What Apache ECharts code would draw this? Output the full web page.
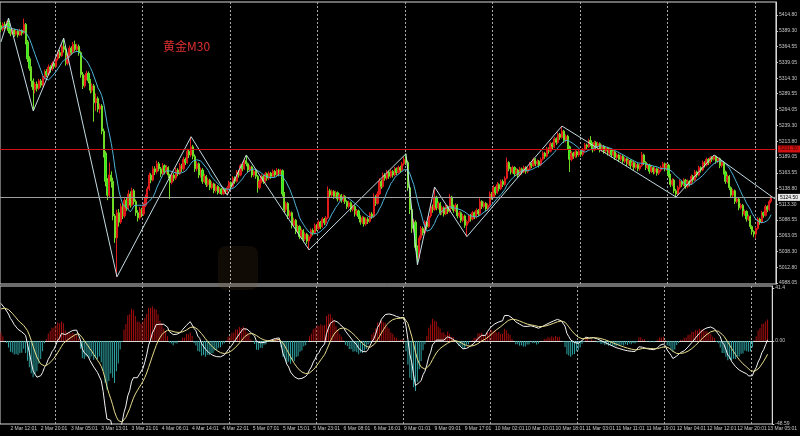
<!DOCTYPE html>
<html>
<head>
<meta charset="utf-8">
<script src="https://cdn.jsdelivr.net/npm/echarts@6/dist/echarts.min.js"></script>
<style>html,body{margin:0;background:#000}#chart{width:800px;height:436px}</style>
</head>
<body>
<div id="chart"></div>
<script>
// 黄金 M30，每根K线 [开, 收, 低, 高]
var ohlc = [
[5398,5392,5388,5404],[5392,5400,5389,5403],[5400,5395,5392,5404],[5395,5402,5393,5405],[5402,5390,5386,5410],
[5390,5385,5381,5393],[5385,5391,5383,5394],[5391,5384,5380,5393],[5384,5389,5382,5392],[5389,5383,5379,5391],
[5383,5390,5381,5393],[5390,5386,5382,5392],[5386,5400,5384,5409],[5400,5372,5368,5402],[5372,5345,5340,5375],
[5345,5330,5326,5349],[5330,5310,5300,5333],[5310,5296,5262,5314],[5296,5305,5290,5308],[5305,5298,5293,5309],
[5298,5310,5295,5313],[5310,5303,5299,5313],[5303,5315,5301,5318],[5315,5325,5312,5328],[5325,5320,5316,5329],
[5320,5332,5318,5336],[5332,5328,5323,5335],[5328,5338,5326,5341],[5338,5333,5329,5340],[5333,5345,5331,5349],
[5345,5355,5342,5358],[5355,5350,5346,5359],[5350,5365,5348,5369],[5365,5360,5355,5378],[5360,5338,5334,5363],
[5338,5350,5335,5353],[5350,5362,5347,5366],[5362,5355,5351,5365],[5355,5368,5353,5372],[5368,5360,5357,5374],
[5360,5365,5356,5369],[5365,5355,5350,5368],[5355,5320,5315,5357],[5320,5302,5297,5324],[5302,5315,5299,5319],
[5315,5322,5311,5326],[5322,5310,5306,5325],[5310,5295,5290,5313],[5295,5302,5291,5306],[5302,5275,5245,5305],
[5275,5282,5262,5290],[5282,5265,5260,5285],[5265,5270,5258,5274],[5270,5230,5225,5273],[5230,5195,5188,5234],
[5195,5150,5142,5198],[5150,5128,5120,5155],[5128,5160,5124,5180],[5160,5150,5140,5166],[5150,5095,5088,5156],
[5095,5060,5052,5098],[5060,5100,4998,5105],[5100,5085,5078,5106],[5085,5110,5082,5115],[5110,5095,5090,5114],
[5095,5120,5092,5124],[5120,5108,5103,5125],[5108,5130,5105,5136],[5130,5112,5108,5134],[5112,5135,5110,5140],
[5135,5118,5113,5138],[5118,5100,5095,5121],[5100,5092,5086,5104],[5092,5105,5089,5109],[5105,5098,5093,5108],
[5098,5112,5095,5116],[5112,5125,5109,5129],[5125,5138,5122,5142],[5138,5160,5135,5164],[5160,5152,5147,5163],
[5152,5170,5150,5174],[5170,5165,5160,5174],[5165,5178,5162,5183],[5178,5170,5166,5181],[5170,5162,5157,5173],
[5162,5175,5159,5179],[5175,5165,5161,5177],[5165,5172,5162,5176],[5172,5160,5155,5174],[5160,5148,5122,5162],
[5148,5160,5145,5164],[5160,5155,5150,5163],[5155,5168,5152,5172],[5168,5162,5158,5171],[5162,5175,5160,5179],
[5175,5170,5165,5178],[5170,5185,5167,5189],[5185,5180,5176,5188],[5180,5198,5178,5202],[5198,5192,5187,5201],
[5192,5205,5189,5221],[5205,5190,5185,5208],[5190,5170,5165,5193],[5170,5178,5166,5182],[5178,5160,5155,5180],
[5160,5168,5156,5172],[5168,5150,5146,5171],[5150,5158,5147,5162],[5158,5145,5141,5160],[5145,5152,5142,5156],
[5152,5140,5136,5154],[5140,5146,5137,5150],[5146,5135,5131,5148],[5135,5142,5132,5146],[5142,5132,5129,5144],
[5132,5138,5130,5141],[5138,5130,5129,5140],[5130,5137,5129,5140],[5137,5134,5130,5139],[5134,5140,5128,5143],
[5140,5148,5137,5151],[5148,5142,5138,5150],[5142,5155,5140,5158],[5155,5150,5146,5158],[5150,5165,5148,5168],
[5165,5160,5156,5168],[5160,5175,5158,5178],[5175,5170,5166,5178],[5170,5183,5168,5186],[5183,5178,5174,5192],
[5178,5168,5164,5180],[5168,5173,5165,5176],[5173,5160,5156,5175],[5160,5166,5157,5169],[5166,5158,5154,5168],
[5158,5140,5132,5160],[5140,5150,5137,5153],[5150,5158,5147,5161],[5158,5150,5146,5160],[5150,5162,5148,5165],
[5162,5155,5151,5164],[5155,5163,5152,5166],[5163,5158,5154,5165],[5158,5166,5156,5169],[5166,5160,5157,5168],
[5160,5168,5158,5171],[5168,5162,5158,5170],[5162,5167,5159,5170],[5167,5130,5126,5169],[5130,5105,5100,5133],
[5105,5115,5101,5118],[5115,5095,5090,5117],[5095,5100,5091,5104],[5100,5080,5075,5102],[5080,5088,5077,5092],
[5088,5070,5066,5090],[5070,5078,5067,5081],[5078,5062,5058,5080],[5062,5072,5059,5075],[5072,5058,5053,5074],
[5058,5066,5055,5069],[5066,5055,5050,5068],[5055,5062,5041,5065],[5062,5072,5059,5075],[5072,5068,5064,5075],
[5068,5080,5066,5083],[5080,5075,5071,5082],[5075,5085,5073,5088],[5085,5078,5074,5087],[5078,5090,5076,5093],
[5090,5084,5080,5092],[5084,5092,5081,5095],[5092,5135,5090,5142],[5135,5128,5124,5138],[5128,5134,5125,5137],
[5134,5126,5122,5136],[5126,5132,5123,5135],[5132,5122,5118,5134],[5122,5128,5119,5131],[5128,5120,5116,5130],
[5120,5126,5117,5129],[5126,5118,5114,5128],[5118,5110,5106,5120],[5110,5116,5107,5119],[5116,5105,5101,5118],
[5105,5110,5102,5113],[5110,5098,5094,5112],[5098,5103,5095,5106],[5103,5094,5090,5105],[5094,5085,5081,5096],
[5085,5092,5082,5095],[5092,5082,5078,5094],[5082,5090,5079,5093],[5090,5086,5082,5093],[5086,5098,5084,5101],
[5098,5094,5090,5101],[5094,5125,5092,5131],[5125,5115,5111,5128],[5115,5130,5113,5134],[5130,5150,5128,5155],
[5150,5142,5138,5153],[5142,5160,5140,5164],[5160,5155,5151,5163],[5155,5165,5152,5168],[5165,5158,5154,5167],
[5158,5166,5155,5169],[5166,5160,5156,5168],[5160,5170,5158,5173],[5170,5164,5160,5172],[5164,5172,5162,5175],
[5172,5168,5164,5175],[5168,5178,5166,5181],[5178,5185,5175,5189],[5185,5180,5176,5194],[5180,5140,5135,5183],
[5140,5105,5098,5143],[5105,5075,5068,5108],[5075,5085,5070,5090],[5085,5045,5040,5088],[5045,5030,5017,5048],
[5030,5060,5027,5064],[5060,5075,5056,5079],[5075,5068,5064,5078],[5068,5085,5066,5088],[5085,5078,5074,5087],
[5078,5095,5076,5099],[5095,5110,5092,5114],[5110,5105,5100,5113],[5105,5125,5103,5141],[5125,5108,5104,5127],
[5108,5115,5105,5118],[5115,5100,5096,5117],[5100,5108,5097,5111],[5108,5098,5094,5110],[5098,5110,5096,5113],
[5110,5102,5098,5112],[5102,5125,5100,5130],[5125,5110,5106,5127],[5110,5104,5100,5113],[5104,5112,5101,5115],
[5112,5095,5091,5114],[5095,5100,5092,5103],[5100,5088,5084,5102],[5088,5095,5085,5098],[5095,5080,5076,5097],
[5080,5086,5062,5089],[5086,5095,5083,5098],[5095,5090,5086,5098],[5090,5100,5088,5103],[5100,5094,5090,5102],
[5094,5104,5091,5107],[5104,5098,5094,5106],[5098,5118,5096,5123],[5118,5110,5106,5120],[5110,5115,5107,5118],
[5115,5106,5102,5117],[5106,5112,5103,5115],[5112,5130,5110,5134],[5130,5125,5121,5133],[5125,5140,5123,5144],
[5140,5132,5128,5142],[5132,5145,5130,5149],[5145,5138,5134,5147],[5138,5150,5136,5153],[5150,5145,5141,5153],
[5145,5155,5143,5158],[5155,5180,5153,5188],[5180,5170,5166,5182],[5170,5165,5161,5173],[5165,5172,5162,5175],
[5172,5162,5158,5174],[5162,5168,5159,5171],[5168,5160,5156,5170],[5160,5170,5158,5173],[5170,5165,5161,5172],
[5165,5172,5163,5175],[5172,5166,5162,5174],[5166,5170,5163,5173],[5170,5178,5168,5181],[5178,5175,5171,5180],
[5175,5185,5173,5188],[5185,5178,5174,5187],[5178,5182,5175,5185],[5182,5176,5172,5184],[5176,5185,5174,5188],
[5185,5195,5183,5198],[5195,5190,5186,5197],[5190,5202,5188,5205],[5202,5198,5194,5204],[5198,5210,5196,5213],
[5210,5205,5201,5212],[5205,5218,5203,5221],[5218,5212,5208,5220],[5212,5225,5210,5228],[5225,5220,5216,5227],
[5220,5230,5218,5238],[5230,5215,5211,5232],[5215,5222,5212,5225],[5222,5205,5201,5224],[5205,5185,5165,5207],
[5185,5195,5182,5198],[5195,5190,5186,5197],[5190,5197,5187,5200],[5197,5192,5188,5199],[5192,5198,5189,5201],
[5198,5193,5189,5200],[5193,5200,5190,5203],[5200,5208,5197,5211],[5208,5205,5201,5210],[5205,5215,5203,5218],
[5215,5210,5206,5222],[5210,5200,5196,5212],[5200,5212,5198,5215],[5212,5205,5201,5214],[5205,5210,5202,5213],
[5210,5200,5196,5212],[5200,5206,5197,5209],[5206,5198,5194,5208],[5198,5203,5195,5206],[5203,5195,5191,5205],
[5195,5200,5192,5203],[5200,5192,5188,5202],[5192,5197,5189,5200],[5197,5188,5184,5199],[5188,5192,5185,5195],
[5192,5185,5181,5194],[5185,5190,5182,5193],[5190,5182,5178,5192],[5182,5186,5179,5189],[5186,5178,5174,5188],
[5178,5183,5175,5186],[5183,5175,5171,5185],[5175,5180,5172,5183],[5180,5172,5168,5182],[5172,5177,5169,5180],
[5177,5170,5166,5179],[5170,5175,5167,5178],[5175,5192,5173,5197],[5192,5180,5176,5194],[5180,5172,5168,5182],
[5172,5176,5169,5179],[5176,5166,5162,5178],[5166,5172,5163,5175],[5172,5165,5161,5174],[5165,5170,5162,5173],
[5170,5163,5159,5172],[5163,5168,5160,5171],[5168,5172,5165,5175],[5172,5178,5169,5181],[5178,5170,5166,5180],
[5170,5176,5167,5179],[5176,5160,5156,5178],[5160,5145,5141,5162],[5145,5152,5142,5155],[5152,5135,5131,5154],
[5135,5130,5125,5138],[5130,5140,5128,5143],[5140,5150,5137,5153],[5150,5145,5141,5152],[5145,5152,5142,5155],
[5152,5142,5138,5154],[5142,5150,5139,5153],[5150,5146,5142,5152],[5146,5158,5144,5161],[5158,5152,5148,5160],
[5152,5165,5150,5168],[5165,5160,5156,5167],[5160,5172,5158,5175],[5172,5168,5164,5174],[5168,5180,5166,5183],
[5180,5176,5172,5182],[5176,5185,5174,5188],[5185,5180,5176,5187],[5180,5188,5178,5190],[5188,5185,5181,5190],
[5185,5190,5183,5192],[5190,5182,5178,5191],[5182,5186,5179,5189],[5186,5175,5171,5188],[5175,5180,5172,5183],
[5180,5165,5161,5182],[5165,5150,5146,5167],[5150,5158,5147,5161],[5158,5140,5136,5160],[5140,5128,5124,5142],
[5128,5135,5125,5138],[5135,5118,5114,5137],[5118,5122,5115,5125],[5122,5108,5104,5124],[5108,5112,5105,5115],
[5112,5098,5094,5114],[5098,5102,5095,5105],[5102,5090,5086,5104],[5090,5094,5087,5097],[5094,5078,5074,5096],
[5078,5070,5065,5080],[5070,5066,5061,5072],[5066,5075,5059,5078],[5075,5090,5073,5093],[5090,5085,5081,5092],
[5085,5100,5083,5103],[5100,5096,5092,5102],[5096,5110,5094,5113],[5110,5105,5101,5112],[5105,5118,5103,5121],
[5118,5124.5,5115,5127]
];
var barCount = 408; // 406 根 + 右侧留白
var timeLabels = ["2 Mar 12:01","2 Mar 20:01","3 Mar 05:01","3 Mar 13:01","3 Mar 21:01","4 Mar 06:01","4 Mar 14:01",
  "4 Mar 22:01","5 Mar 07:01","5 Mar 15:01","5 Mar 23:01","6 Mar 08:01","6 Mar 16:01","9 Mar 01:01","9 Mar 09:01",
  "9 Mar 17:01","10 Mar 02:01","10 Mar 10:01","10 Mar 18:01","11 Mar 03:01","11 Mar 11:01","11 Mar 19:01",
  "12 Mar 04:01","12 Mar 12:01","12 Mar 20:01","13 Mar 05:01"];
var firstLabelBar = 5, labelStep = 16;
var dayStartBar = 29, dayStep = 46;
var priceTicks = [5414.80,5389.30,5364.55,5339.05,5314.30,5289.55,5264.05,5239.30,5213.80,5189.05,
  5163.55,5138.80,5113.30,5088.55,5063.05,5038.30,5012.80,4988.05];
var zigzagBars = [0, 4, 17, 33, 61, 100, 119, 129, 162, 213, 219, 228, 245, 295, 355, 375, 407];
var zigzagPrices = [5372, 5410, 5262, 5378, 4998, 5221, 5128, 5192, 5041, 5194, 5017, 5141, 5062, 5238, 5125, 5192, 5122];
var redLevel = 5201.50, lastPrice = 5124.50;
var macdTicks = [31, 0, -48.59];
var macdTickLabels = ['41.4', '0.00', '-48.59'];
var macdParams = [8, 17, 9];
var histScale = 1.5;
var emaStart = [5386, 5362], deaStart = 18;

var cats = [];
for (var i = 0; i < barCount; i++) cats.push(String(i));
var closes = ohlc.map(function (d) { return d[1]; });

// 均线 (10)
var ma = closes.map(function (c, i) {
  var s = 0, n = 0;
  for (var k = Math.max(0, i - 9); k <= i; k++) { s += closes[k]; n++; }
  return +(s / n).toFixed(2);
});

// ZigZag
var zig = cats.map(function () { return null; });
zigzagBars.forEach(function (b, k) { zig[b] = zigzagPrices[k]; });

// MACD
var kf = 2 / (macdParams[0] + 1), ks = 2 / (macdParams[1] + 1), kd = 2 / (macdParams[2] + 1);
var ef = emaStart[0], es = emaStart[1], dea = deaStart;
var difArr = [], deaArr = [], hist = [];
closes.forEach(function (c) {
  ef += (c - ef) * kf;
  es += (c - es) * ks;
  var d = ef - es;
  dea += (d - dea) * kd;
  difArr.push(+d.toFixed(2));
  deaArr.push(+dea.toFixed(2));
  hist.push(+(histScale * (d - dea)).toFixed(2));
});

function isLabel(idx) { return idx >= firstLabelBar && (idx - firstLabelBar) % labelStep === 0; }
function isDay(idx) { return idx >= dayStartBar && (idx - dayStartBar) % dayStep === 0; }
var daySplit = { show: true, interval: isDay, lineStyle: { color: '#a8a8a8', type: [2, 2], width: 1 } };
var tiny = { color: '#c8c8c8', fontSize: 5, fontFamily: 'Liberation Sans' };

var myChart = echarts.init(document.getElementById('chart'));
myChart.setOption({
  backgroundColor: '#000',
  animation: false,
  grid: [
    { left: 0, right: 23, top: 2, height: 282, show: true, borderColor: '#d8d8d8', borderWidth: 1 },
    { left: 0, right: 23, top: 286, height: 138, show: true, borderColor: '#d8d8d8', borderWidth: 1 }
  ],
  xAxis: [
    { type: 'category', gridIndex: 0, data: cats, axisLine: { show: false }, axisTick: { show: false },
      axisLabel: { show: false }, splitLine: daySplit },
    { type: 'category', gridIndex: 1, data: cats, axisLine: { lineStyle: { color: '#d8d8d8' } },
      axisTick: { interval: isLabel, alignWithLabel: true, length: 3, lineStyle: { color: '#d8d8d8' } },
      axisLabel: Object.assign({ interval: isLabel, align: 'left', margin: 2,
        formatter: function (v, idx) { return timeLabels[(idx - firstLabelBar) / labelStep] || ''; } }, tiny),
      splitLine: daySplit }
  ],
  yAxis: [
    { type: 'value', gridIndex: 0, position: 'right', min: 4986.6, max: 5435.5, splitLine: { show: false },
      axisLine: { show: true, lineStyle: { color: '#d8d8d8' } },
      axisTick: { show: true, customValues: priceTicks, length: 2, lineStyle: { color: '#d8d8d8' } },
      axisLabel: Object.assign({ customValues: priceTicks, margin: 3,
        formatter: function (v) { return v.toFixed(2); } }, tiny) },
    { type: 'value', gridIndex: 1, position: 'right', min: -48.59, max: 32.2, splitLine: { show: false },
      axisLine: { show: true, lineStyle: { color: '#d8d8d8' } },
      axisTick: { show: true, customValues: macdTicks, length: 2, lineStyle: { color: '#d8d8d8' } },
      axisLabel: Object.assign({ customValues: macdTicks, margin: 3,
        formatter: function (v) { return macdTickLabels[macdTicks.indexOf(v)]; } }, tiny) }
  ],
  graphic: [
    { type: 'text', left: 163, top: 40, style: { text: '黄金M30', fill: '#e23030', fontSize: 12,
      fontFamily: 'Noto Sans CJK SC' } },
    { type: 'rect', left: 218, top: 246, shape: { width: 40, height: 44, r: 8 },
      style: { fill: 'rgba(110,80,25,0.14)' }, silent: true }
  ],
  series: [
    { type: 'candlestick', xAxisIndex: 0, yAxisIndex: 0, data: ohlc, barWidth: 1.7,
      itemStyle: { color: '#e01b1b', color0: '#22ee22', borderColor: '#e01b1b', borderColor0: '#6fdc26', borderWidth: 1 },
      markLine: { silent: true, symbol: 'none',
        label: { position: 'end', distance: 2, fontSize: 5, fontFamily: 'Liberation Sans', padding: [1, 2] },
        data: [
          { yAxis: redLevel, lineStyle: { color: '#d01010', width: 1, type: 'solid' },
            label: { formatter: redLevel.toFixed(2), backgroundColor: '#d01010', color: '#3a0000' } },
          { yAxis: lastPrice, lineStyle: { color: '#a0a0a0', width: 1, type: 'solid' },
            label: { formatter: lastPrice.toFixed(2), backgroundColor: '#e8e8e8', color: '#000' } }
        ] } },
    { type: 'line', xAxisIndex: 0, yAxisIndex: 0, data: ma, symbol: 'none',
      lineStyle: { color: '#4fb3d6', width: 1 } },
    { type: 'line', xAxisIndex: 0, yAxisIndex: 0, data: zig, symbol: 'none', connectNulls: true,
      lineStyle: { color: '#c3dbe3', width: 1 } },
    { type: 'bar', xAxisIndex: 1, yAxisIndex: 1, data: hist, barWidth: 1,
      itemStyle: { color: function (p) { return p.value >= 0 ? '#a50e0e' : '#2fa3a3'; } } },
    { type: 'line', xAxisIndex: 1, yAxisIndex: 1, data: difArr, symbol: 'none',
      lineStyle: { color: '#f2f2f2', width: 1 } },
    { type: 'line', xAxisIndex: 1, yAxisIndex: 1, data: deaArr, symbol: 'none',
      lineStyle: { color: '#e6dc8c', width: 1 } }
  ]
});
</script>
</body>
</html>
